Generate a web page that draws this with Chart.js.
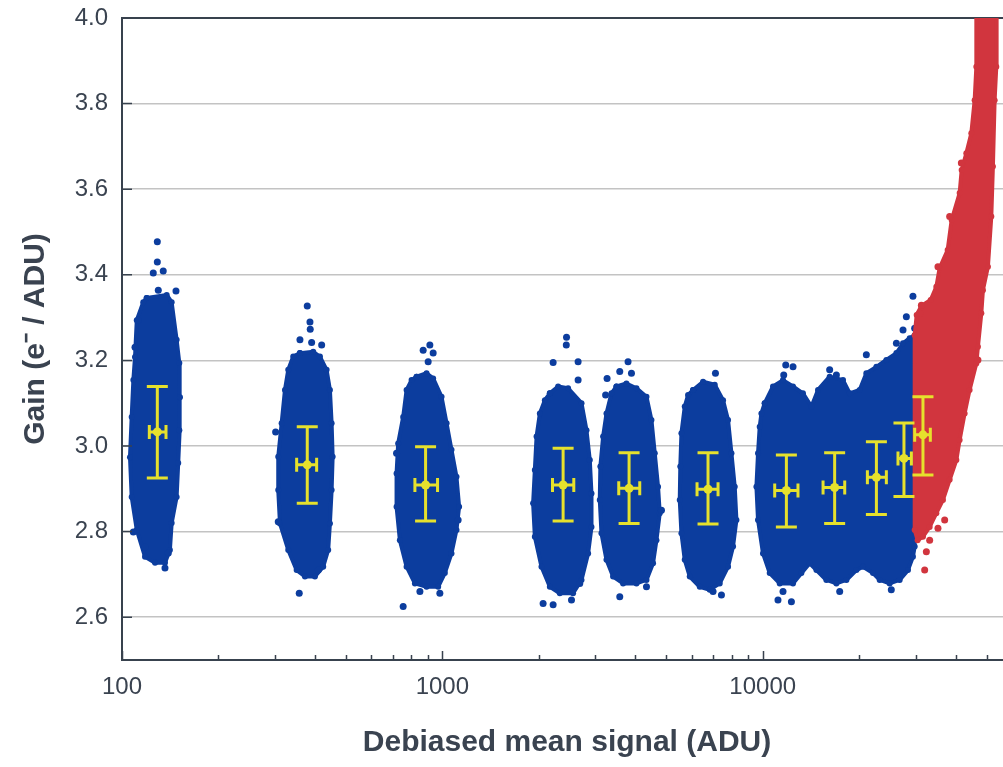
<!DOCTYPE html>
<html>
<head>
<meta charset="utf-8">
<script src="https://cdn.jsdelivr.net/npm/chart.js@4.4.1/dist/chart.umd.min.js"></script>
<style>
  html, body { margin: 0; padding: 0; background: #ffffff; overflow: hidden; }
  #wrap { position: relative; width: 1020px; height: 767px; }
</style>
</head>
<body>
<div id="wrap"><canvas id="c"></canvas></div>
<script>
// ---------- axis ticks / labels ----------
const xTickVals = [100, 200, 300, 400, 500, 600, 700, 800, 900,
                   1000, 2000, 3000, 4000, 5000, 6000, 7000, 8000, 9000,
                   10000, 20000, 30000, 40000, 50000];
const xLabelVals = [100, 1000, 10000];
const yTicks = [2.6, 2.8, 3.0, 3.2, 3.4, 3.6, 3.8, 4.0];
const xTitle = 'Debiased mean signal (ADU)';
const yTitle = 'Gain (e\u207B / ADU)';

// ---------- cloud outlines (x = ADU, y = gain) ----------
const c1Edge = [[119.4,3.346],[137.9,3.353],[142.9,3.336],[148.1,3.248],[151.0,3.194],[151.7,3.114],[151.0,3.037],[149.8,2.960],[148.1,2.881],[142.9,2.820],[141.1,2.757],[136.2,2.727],[126.8,2.727],[118.0,2.741],[111.2,2.804],[107.2,2.881],[105.9,2.974],[107.2,3.068],[108.5,3.154],[109.8,3.208],[111.2,3.294],[116.5,3.336]];
const c2Edge = [[359.3,3.217],[395.3,3.220],[414.8,3.209],[435.2,3.178],[445.7,3.131],[451.2,3.053],[454.5,2.975],[451.2,2.897],[445.7,2.819],[440.2,2.757],[424.7,2.718],[400.2,2.695],[372.4,2.695],[350.9,2.710],[330.3,2.757],[311.2,2.819],[307.4,2.897],[307.4,2.975],[315.0,3.053],[322.6,3.131],[330.3,3.178],[342.4,3.209]];
const c3Edge = [[831.0,3.162],[892.8,3.170],[936.1,3.158],[994.3,3.115],[1031,3.053],[1068,2.991],[1107,2.928],[1128,2.858],[1107,2.804],[1068,2.749],[1018,2.703],[970.3,2.671],[892.8,2.671],[820.9,2.679],[773.2,2.718],[736.8,2.780],[719.5,2.858],[719.5,2.936],[727.8,3.006],[754.5,3.068],[773.2,3.131],[801.5,3.154]];
const c4Edge = [[2165,3.123],[2298,3.139],[2469,3.135],[2719,3.100],[2818,3.037],[2886,2.967],[2921,2.889],[2921,2.811],[2851,2.749],[2719,2.687],[2559,2.656],[2326,2.656],[2165,2.671],[2039,2.718],[1944,2.788],[1920,2.866],[1944,2.944],[1968,3.022],[2015,3.076],[2089,3.107]];
const c5Edge = [[3495,3.139],[3755,3.146],[4036,3.135],[4337,3.115],[4495,3.061],[4603,2.983],[4713,2.905],[4771,2.843],[4659,2.780],[4547,2.726],[4337,2.687],[4036,2.679],[3665,2.679],[3411,2.695],[3253,2.734],[3138,2.796],[3100,2.874],[3113,2.952],[3175,3.022],[3253,3.076],[3372,3.123]];
const c6Edge = [[6061,3.131],[6512,3.150],[7084,3.143],[7520,3.107],[7795,3.061],[7988,2.983],[8179,2.905],[8279,2.827],[8080,2.765],[7795,2.718],[7342,2.679],[6833,2.664],[6360,2.671],[5918,2.695],[5709,2.734],[5575,2.796],[5508,2.874],[5530,2.952],[5575,3.030],[5709,3.092],[5847,3.119]];
const c7to10Edge = [[10144,3.100],[10768,3.139],[11570,3.154],[12434,3.139],[13354,3.123],[14190,3.092],[14880,3.131],[16180,3.162],[17810,3.154],[18690,3.123],[20070,3.131],[21060,3.170],[22640,3.185],[24320,3.201],[26140,3.217],[27410,3.240],[28760,3.252],[29810,3.259],[29810,2.998],[29810,2.765],[29440,2.741],[28410,2.710],[26760,2.687],[24900,2.679],[23180,2.687],[22090,2.703],[20560,2.718],[19610,2.710],[18250,2.687],[16980,2.679],[15800,2.687],[14710,2.710],[14020,2.726],[13205,2.703],[12434,2.679],[11300,2.679],[10515,2.703],[10020,2.749],[9667,2.827],[9557,2.905],[9667,2.983],[9786,3.045],[9906,3.076]];
const redEdge = [[46530,4.014],[46430,3.886],[45870,3.808],[44790,3.731],[43210,3.684],[41780,3.645],[41180,3.591],[38880,3.528],[37780,3.458],[35670,3.416],[34830,3.372],[33440,3.341],[31280,3.327],[30240,3.306],[29810,3.259],[29810,2.804],[30450,2.780],[31640,2.788],[33200,2.811],[34830,2.843],[36530,2.874],[38330,2.921],[40220,2.967],[41180,3.014],[42690,3.076],[44240,3.131],[46430,3.193],[46970,3.232],[48130,3.310],[48690,3.364],[50470,3.419],[51710,3.536],[52310,3.653],[52960,3.808],[53600,3.886],[53720,4.014]];

// ---------- isolated points outside the dense clouds ----------
const blueStray = [
  [128.9,3.477],[128.9,3.430],[125.2,3.404],[134.5,3.409],[129.8,3.364],[147.4,3.362],[112.4,3.294],[109.8,3.231],[108.5,2.799],[118.0,2.764],[136.2,2.715],[139.5,2.750],
  [378.7,3.327],[386.1,3.290],[386.9,3.273],[359.3,3.248],[390.8,3.242],[420.0,3.236],[301.7,3.033],[307.4,2.823],[357.5,2.656],[409.9,2.710],
  [914.1,3.236],[871.2,3.224],[936.1,3.217],[903,3.197],[719.5,2.983],[1120,2.827],[982.2,2.656],[754.5,2.625],[851,2.660],
  [2441,3.254],[2437,3.236],[2217,3.195],[2653,3.197],[2653,3.154],[2063,2.632],[2217,2.629],[2530,2.640],[2685,2.679],
  [3799,3.197],[3579,3.174],[3893,3.170],[3267,3.158],[3233,3.119],[3579,2.648],[4337,2.671],[4830,2.850],
  [7120,3.170],[7433,2.652],[6998,2.660],
  [11800,3.189],[12434,3.185],[11630,3.166],[16180,3.178],[16980,3.166],[21060,3.213],[27410,3.271],[26140,3.240],[28080,3.302],[29810,3.275],[29440,3.350],[11570,2.660],[12290,2.636],[11160,2.640],[17390,2.660],[25200,2.664]
];
const redStray = [[36980,2.827],[35240,2.808],[33200,2.780],[32420,2.753],[32030,2.710],[41690,3.661],[38330,3.536],[35240,3.419],[31280,3.329],[30900,3.310],[46970,3.201]];

// ---------- mean gain per signal level with error bars ----------
const ebX   = [128.9, 378.7, 886.4, 2382, 3827, 6750, 11855, 16770, 22640, 27600, 31640];
const ebXLo = [121.7, 350.9, 820.9, 2207, 3553, 6237, 10900, 15430, 21220, 26440, 29810];
const ebXHi = [137.2, 405.1, 966.0, 2572, 4132, 7254, 12885, 18030, 24320, 29110, 33360];
const ebY   = [3.033, 2.956, 2.909, 2.909, 2.901, 2.899, 2.896, 2.903, 2.927, 2.971, 3.026];
const ebYLo = [2.925, 2.866, 2.825, 2.825, 2.819, 2.818, 2.811, 2.819, 2.840, 2.882, 2.932];
const ebYHi = [3.139, 3.045, 2.998, 2.995, 2.984, 2.984, 2.979, 2.984, 3.010, 3.054, 3.115];

// ---------- styles ----------
const BLUE = '#0c3d9e';
const RED = '#d1353e';
const YELLOW = '#e6e12c';
const AXIS = '#38424e';
const GRID = '#c3c3c3';
const TEXT = '#3a4350';
const FONT = "'Liberation Sans', Arial, sans-serif";

const toPts = arr => arr.map(p => ({x: p[0], y: p[1]}));
const closed = arr => toPts(arr.concat([arr[0]]));

function cloud(arr, color) {
  return {
    data: closed(arr), showLine: true, fill: 'shape',
    backgroundColor: color, borderColor: color, borderWidth: 4,
    borderJoinStyle: 'round', pointRadius: 3, pointBorderWidth: 0, tension: 0
  };
}
function stray(arr, color) {
  return {
    data: toPts(arr), showLine: false,
    backgroundColor: color, borderColor: color, pointRadius: 3.5, pointBorderWidth: 0
  };
}

// lower index = drawn on top
const datasets = [
  stray(redStray, RED),
  cloud(redEdge, RED),
  stray(blueStray, BLUE),
  cloud(c1Edge, BLUE), cloud(c2Edge, BLUE), cloud(c3Edge, BLUE), cloud(c4Edge, BLUE),
  cloud(c5Edge, BLUE), cloud(c6Edge, BLUE), cloud(c7to10Edge, BLUE)
];

const errorBars = {
  id: 'errorBars',
  afterDatasetsDraw(chart) {
    const {ctx, scales: {x, y}} = chart;
    ctx.save();
    ctx.strokeStyle = YELLOW; ctx.fillStyle = YELLOW; ctx.lineWidth = 3; ctx.lineCap = 'butt';
    for (let i = 0; i < ebX.length; i++) {
      const cx = x.getPixelForValue(ebX[i]), cy = y.getPixelForValue(ebY[i]);
      const x0 = x.getPixelForValue(ebXLo[i]), x1 = x.getPixelForValue(ebXHi[i]);
      const y0 = y.getPixelForValue(ebYLo[i]), y1 = y.getPixelForValue(ebYHi[i]);
      ctx.beginPath();
      ctx.moveTo(cx, y0); ctx.lineTo(cx, y1);
      ctx.moveTo(cx - 10.5, y0); ctx.lineTo(cx + 10.5, y0);
      ctx.moveTo(cx - 10.5, y1); ctx.lineTo(cx + 10.5, y1);
      ctx.moveTo(x0, cy); ctx.lineTo(x1, cy);
      ctx.moveTo(x0, cy - 7); ctx.lineTo(x0, cy + 7);
      ctx.moveTo(x1, cy - 7); ctx.lineTo(x1, cy + 7);
      ctx.stroke();
      ctx.beginPath(); ctx.arc(cx, cy, 4.5, 0, Math.PI * 2); ctx.fill();
    }
    ctx.restore();
  }
};

const innerTicks = {
  id: 'innerTicks',
  afterDraw(chart) {
    const {ctx, chartArea: a, scales: {x, y}} = chart;
    ctx.save();
    ctx.strokeStyle = AXIS; ctx.lineWidth = 1.5;
    ctx.beginPath();
    xTickVals.forEach(v => {
      const px = Math.round(x.getPixelForValue(v)) + 0.5;
      const len = xLabelVals.includes(v) ? 9 : 5;
      ctx.moveTo(px, a.bottom); ctx.lineTo(px, a.bottom - len);
    });
    yTicks.forEach(v => {
      const py = y.getPixelForValue(v);
      ctx.moveTo(a.left, py); ctx.lineTo(a.left + 10, py);
    });
    ctx.stroke();
    ctx.restore();
  }
};

new Chart(document.getElementById('c'), {
  type: 'scatter',
  data: { datasets },
  options: {
    responsive: true, maintainAspectRatio: false, animation: false,
    layout: { padding: { top: 18, right: 8, left: 0, bottom: 0 } },
    plugins: { legend: { display: false }, tooltip: { enabled: false } },
    scales: {
      x: {
        type: 'logarithmic', min: 100, max: 60000,
        afterBuildTicks: s => { s.ticks = xTickVals.map(v => ({ value: v })); },
        afterFit: s => { s.height = 107; s.paddingLeft = 0; s.paddingRight = 0; },
        ticks: {
          autoSkip: false, maxRotation: 0, padding: 13, color: TEXT,
          font: { family: FONT, size: 24 },
          callback: v => xLabelVals.includes(v) ? String(v) : ''
        },
        grid: { display: true, drawOnChartArea: false, drawTicks: false },
        border: { display: true, color: AXIS, width: 2 },
        title: { display: true, text: xTitle, color: TEXT,
          font: { family: FONT, size: 30, weight: 'bold' }, padding: { top: 0, bottom: 6 } }
      },
      y: {
        min: 2.5, max: 4.0,
        afterBuildTicks: s => { s.ticks = yTicks.map(v => ({ value: v })); },
        afterFit: s => { s.width = 122; s.paddingTop = 0; s.paddingBottom = 0; },
        ticks: { padding: 14, color: TEXT, font: { family: FONT, size: 24 },
          callback: v => Number(v).toFixed(1) },
        grid: {
          drawTicks: false,
          color: c => (c.tick && c.tick.value === 4) ? AXIS : GRID,
          lineWidth: c => (c.tick && c.tick.value === 4) ? 2 : 1.5
        },
        border: { display: true, color: AXIS, width: 2 },
        title: { display: true, text: yTitle, color: TEXT,
          font: { family: FONT, size: 30, weight: 'bold' }, padding: { top: 18, bottom: 0 } }
      }
    }
  },
  plugins: [errorBars, innerTicks]
});
</script>
</body>
</html>
